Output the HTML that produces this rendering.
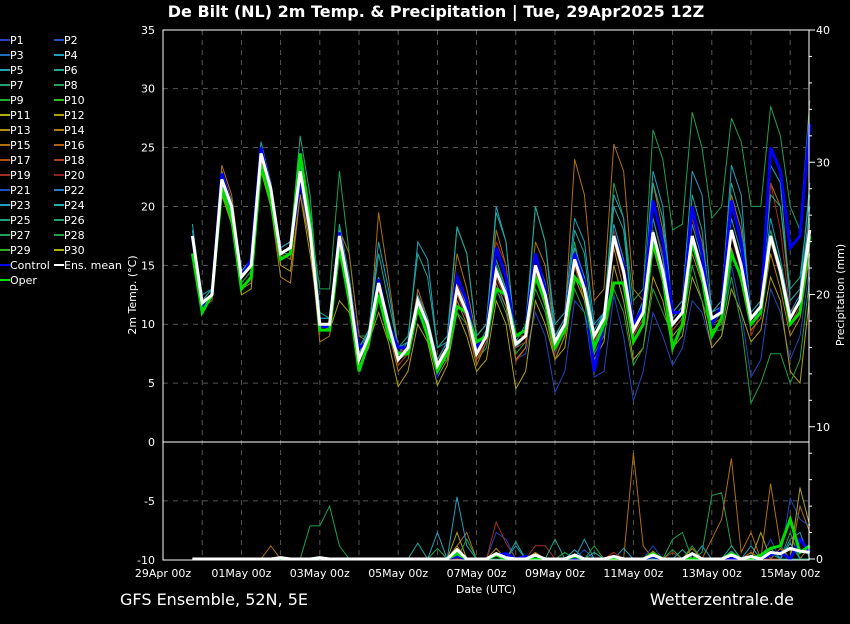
<!DOCTYPE html>
<html><head><meta charset="utf-8">
<style>
html,body{margin:0;padding:0;background:#000;}
body{width:850px;height:620px;overflow:hidden;font-family:"DejaVu Sans","Liberation Sans",sans-serif;}
svg text{font-family:"DejaVu Sans","Liberation Sans",sans-serif;fill:#fff;}
</style></head>
<body>
<svg id="chart" width="850" height="620" xmlns="http://www.w3.org/2000/svg">
<rect x="0" y="0" width="850" height="620" fill="#000"/>
<text x="436" y="17" text-anchor="middle" font-size="16" font-weight="bold">De Bilt  (NL)  2m Temp. &amp; Precipitation | Tue, 29Apr2025 12Z</text>
<text x="120" y="605" font-size="16">GFS Ensemble, 52N, 5E</text>
<text x="794" y="605" text-anchor="end" font-size="16">Wetterzentrale.de</text>
<text x="486" y="593" text-anchor="middle" font-size="11">Date (UTC)</text>
<text transform="translate(136,295) rotate(-90)" text-anchor="middle" font-size="11">2m Temp. (°C)</text>
<text transform="translate(844,295) rotate(-90)" text-anchor="middle" font-size="11">Precipitation (mm)</text>
<g id="grid"></g>
<g id="series"></g>
<g id="axes"></g>
<g id="legend"></g>
</svg>
<script>
const tempTicks=[35,30,25,20,15,10,5,0,-5,-10];
const precipTicks=[40,30,20,10,0];
const dateLabels=["29Apr 00z","01May 00z","03May 00z","05May 00z","07May 00z","09May 00z","11May 00z","13May 00z","15May 00z"];
const firstStep=3;
const ensMean=[17.5,11.8,12.5,22.3,20,14,15,24.5,21.5,16,16.5,23,18,10,10,17.5,13,7,9,13.5,10,7,8,12,10,6.5,8,13,11,7.5,9,14.5,12.5,8.3,9,15,12.5,8.5,10,15.5,13,9,10.5,17.5,14.5,9.5,11,17.8,14.5,10,11,17.5,14.5,10.5,11,18,15,10.5,11.5,17.5,14.5,10.5,12,18];
const control=[17.5,11.5,12.5,22.8,20,14,15.5,25,21.5,16,16.5,22,19,9.8,9.8,17.8,13,8,8.5,13.8,10,8,8,11.5,10,5.8,8,14,12,8,9,16.5,14,9,9.5,16,13,8,10,16,13.5,6,10,17.5,15,10,11.5,20.5,17,11,11,20,16,10,11.5,20.5,17,10,11,25,23,16.5,17.5,27];
const oper=[16,11,12.5,21.5,19,13,14,23.5,20.5,15.5,16,24.5,19,9.5,9.5,16.5,12,6,8.5,12.5,9,7.5,7.5,11.5,9,6,7.5,11.5,11,8.5,9,13,12.5,9,9.5,14,12,8,9.5,14,13,8,10,13.5,13.5,8.5,10,17,14,8,10,17,14,9,10.5,16,14,10,11,17.5,14.5,10,11,17.5];
const memA=[17,11.5,12.5,21.5,19.5,13.5,14.5,24,21,15.5,16,24,19,13,13,23,16,9,9,13,10,7,8,12,10,7,8,12.5,11,8,9,15,13,9,9.5,15,13,9,10.5,17,13,9,10,22,19,12,13,26.5,24,18,18.5,28,25,19,20,27.5,25.5,20,20,28.5,26,20,18,29];
const memB=[17.5,12,13,23.5,21,14.5,15.5,24.5,21,16,15.5,22,17,10,9.5,18,16,9,8.5,19.5,14,8,7.5,13,10.5,7,8.5,16,13,9,10,18,15,9,9,17,15,9,10.5,24,21,12,13,25.3,23,13,12,22,18,11,12,20,17,11,12,21,18,11,12,22,20,12,13,19];
const memC=[17.5,12,12.5,22,19.5,14,15,24.5,21.5,16,16.5,22,17,10,10,16.5,13,7.5,8.5,14,10,7,8,11,9,6,7.5,12,10.5,7,8,13,11.5,7,7.5,11,9,4.2,6,12,11,5.5,6,12.5,9,3.5,6,11,9,6.5,8,12,11,8,9,15,11,5.5,7,13,11,7,9,15];
const memD=[18.5,12,13,23,20.5,14.5,15.5,25.5,22,16.5,17,24,19,10.5,10.5,18,14,8,9.5,17,13,8,8.5,17,15.5,8,8.5,18.2,16,9,10,20,17,8,9,20,17,10,11,19,17,10,11,21,19,10,12,23,20,11,12,23,21,11,12,23.5,21,10,11.5,23.5,22,12,13,22];
const memE=[16,11.5,12,21,18.5,12.5,13,23,20,15,14.5,21,16,10,9.5,12,11,7.5,8.5,11,8.5,4.7,6,10,8.5,4.8,6.5,11,9,6,7,12,10,4.5,6,12,10,7,8,14,12,7,8.5,15,12,7,8,14,12,8,9,14,12,8,9,13,11,8.5,9.5,14,12,6,5,12.5];
const memF=[17.5,12,12.5,22.5,20,14.2,15,24.3,21.5,16,16.5,22.5,18,10,10,17,13.5,7.5,9,14,10,7.5,8,12.5,10,7,8,13.5,11.5,7,9,17,15,6.8,8,14,13,7.5,9.5,16.5,14,8.5,10.5,18,15,9,11,19,16,10,11,19,16,10,11,20,17,9,11,22,18,11,12,19];
const memG=[17,11.5,12.5,22,19.5,13.5,14.5,24,21,15.5,16,23.5,18,9.5,9.5,17,12.5,7,8.5,13,9.5,7,7.5,11.5,9.5,6.5,7,11,10,7,8,13,11,7.5,8.5,13,11,7,9,13,11,7.5,9,13,11,6.5,8,13,11,9,10,15,12,9.5,9.5,14,10,3.3,5,7.5,7.5,5,7,14];
const memH=[18,12,13,22.5,20,14.5,15.5,25,22,16.5,17,26,21,11,10.5,18.5,14,8,9.5,16,12,8,9,16,14,8,9,18.3,16,9,10,19.5,17,8.5,10,20,17,9,10,18,16,9,11,20,18,10,12,22,19,10,11,21,18,10,11,22,19,11,12,21,20,13,14,21];
const memI=[17,12,12.5,23,20.5,13,13.5,23.5,20,14,13.5,21,17,8.5,9,16.5,12,6.5,8,12.5,9.5,6,7,11,9.5,5.5,7,12,10,6.5,8.5,13.5,11.5,7,8,14,11.5,7,9,15,12,8,9.5,16.5,13,8.5,10,16.5,13.5,9,10,16,13.5,9.5,10,16.5,13.5,9.5,10.5,16,13,9,10.5,16];
const memJ=[18,12.5,13,22.5,20,14.5,15.5,25,22,16.5,17,23.5,18.5,10.5,10.5,18,13.5,7.5,9.5,14,10.5,7.5,8.5,12.5,10.5,7,8.5,14,11.5,8,9.5,15.5,13,9,9.5,16,13.5,9,10.5,16.5,14,9.5,11,18.5,15.5,10,11.5,19,15.5,10.5,11.5,18.5,15.5,11,11.5,19,16,11,12,19,15.5,11,12.5,20];
const memK=[17.5,11.5,12,21.5,19,14,15,24,21,15.5,16,22.5,17.5,9.5,9.5,17,12.5,7,8.5,13,9.5,6.5,7.5,11.5,9.5,6,7.5,12.5,10.5,7,8.5,14,12,8,8.5,14.5,12,8,9.5,15,12.5,8.5,10,17,14,9,10.5,17,14,9.5,10.5,17,14,10,10.5,17.5,14.5,10,11,17,14,10,11.5,17.5];
const memL=[17,12,12.5,22,19.5,14,15,24.5,21.5,16,16,23,18,10,10,17.5,13,7,9,13.5,10,7,8,12,10,6.5,8,13,11,7.5,9,14.5,12.5,8.5,9,15,12.5,8.5,10,15.5,13,9,10.5,17.5,14.5,9.5,11,18,14.5,10,11,17.5,14.5,10.5,11,18,15,10.5,11.5,18,15,10.5,12,18.5];
const precipMean=[0,0,0,0,0,0,0,0, 0,0.1,0,0,0,0.1,0,0, 0,0,0,0,0,0,0,0, 0,0,0,0.7,0,0,0,0.4, 0.1,0,0,0.3,0,0,0,0.3, 0,0,0,0.2,0,0,0,0.3, 0,0,0,0.4,0,0,0,0.3, 0,0.2,0,0.5,0.4,0.8,0.6,0.5];
const precipControl=[0,0,0,0,0,0,0,0, 0,0,0,0,0,0,0,0, 0,0,0,0,0,0,0,0, 0,0,0,0.2,0,0,0,0.3, 0.4,0,0.2,0,0,0,0,0, 0,0,0,0,0,0,0,0.2, 0,0,0,0,0,0,0,0, 0,0,0,0.3,0.5,0,1.5,0.5];
const precipOper=[0,0,0,0,0,0,0,0, 0,0,0,0,0,0,0,0, 0,0,0,0,0,0,0,0, 0,0,0,0.4,0,0,0,0.3, 0,0,0,0,0,0,0,0.2, 0,0,0,0,0,0,0,0.4, 0,0,0,0,0,0,0,0.4, 0,0,0.3,0.8,1.0,3.0,0.5,1.0];
const precipA=[0,0,0,0,0,0,0,0, 0,0,0,0,2.5,2.5,4.0,1.0, 0,0,0,0,0,0,0,0, 0,0,0,0,0,0,0,0, 0,0,0,0,0,0,0,0, 0,0,0,0,0,0,0,0.5, 0,1.5,2.0,0,0.5,4.8,5.0,1.0, 0,0,0,0,0,2.0,0,0];
const precipB=[0,0,0,0,0,0,0,0, 1.0,0,0,0,0,0,0,0, 0,0,0,0,0,0,0,0, 0,0,0,1.0,2.0,0,0,0, 0,0,0,0,0,0,0,0, 0,0,0,0,0,8.0,1.0,0, 0,0,0,0,0,1.5,3.0,7.6, 0.5,2.0,0,5.7,1.0,0,4.0,2.0];
const precipC=[0,0,0,0,0,0,0,0, 0,0,0,0,0,0,0,0, 0,0,0,0,0,0,0,0, 0,0,0,0,0,0,0,2.0, 1.5,0,0,0,0,0,0,0, 0.7,0,0,0,0,0,0,1.0, 0,0,0,0,0,0,0,0, 0,0,0,1.5,0,4.6,3.0,2.5];
const precipD=[0,0,0,0,0,0,0,0, 0,0,0,0,0,0,0,0, 0,0,0,0,0,0,0,0, 0,2.0,0,4.7,1.0,0,0,0, 0,1.0,0,0,0,0,0,0, 1.5,0,0,0,0.8,0,0,0, 0,0,0,0,1.0,0,0,0, 0,1.0,0,0,0,1.5,2.0,0];
const precipE=[0,0,0,0,0,0,0,0, 0,0,0,0,0,0,0,0, 0,0,0,0,0,0,0,0, 0,0,0,2.0,0,0,0,0, 0,0,0,0,0,0,0,0, 0,0,0,0,0,0,0,0, 0,0,0,0,0,0,0,0, 0,0,2.0,0,0,0,5.4,2.5];
const precipF=[0,0,0,0,0,0,0,0, 0,0,0,0,0,0,0,0, 0,0,0,0,0,0,0,0, 0,0,0,0,0,0,0,2.8, 1.2,0,0,1.0,1.0,0,0,0, 0,0,0,0.5,0,0,0,0, 0,0.5,0,0,0,0,0,0, 0,0,0,0,0,0,0,0];
const precipG=[0,0,0,0,0,0,0,0, 0,0,0,0,0,0,0,0, 0,0,0,0,0,0,0,0, 0,0.8,0,0,1.5,0,0,0, 0,0,0,0,0,0,0.5,0, 0,1.0,0,0,0,0,0,0, 0,0.7,0,1.0,0,0,0,0, 0,0,0,0,0,0,0,0];
const precipH=[0,0,0,0,0,0,0,0, 0,0,0,0,0,0,0,0, 0,0,0,0,0,0,0,1.2, 0,0,0,0,0,0,0,0, 0,1.3,0,0,0,1.5,0,0, 0,0.5,0,0,0,0,0,0, 0,0,0.7,0,0,0,0,1.0, 0,0,0,0,0,0,0,0];
const precipI=[0,0,0,0,0,0,0,0, 0,0,0,0,0,0,0,0, 0,0,0,0,0,0,0,0, 0,0,0,1.0,0,0,0,0.8, 0,0,0,0.5,0,0,0,0, 0,0,0,0,0,0,0,0.6, 0,0,0,0.8,0,0,0,0, 0,0.5,0,0,0.8,0,0,1.0];
const precipJ=[0,0,0,0,0,0,0,0, 0,0,0,0,0,0,0,0, 0,0,0,0,0,0,0,0, 0,0,0,0.5,0,0,0,0, 0,0,0,0,0,0,0,0.7, 0,0,0,0,0,0,0,0, 0,0,0,0,0,0,0,0.6, 0,0,0,0.8,0,1.2,0,0];
const precipK=[0,0,0,0,0,0,0,0, 0,0,0,0,0,0,0,0, 0,0,0,0,0,0,0,0, 0,0,0,0,0,0,0,0, 0,0,0,0,0,0,0,0, 0,0,0,0,0,0,0,0, 0,0,0,0,0,0,0,0, 0,0,0,0,0,0,0,0];
const precipL=[0,0,0,0,0,0,0,0, 0,0,0,0,0,0,0,0, 0,0,0,0,0,0,0,0, 0,0,0,0.3,0,0,0,0, 0,0,0,0,0,0,0,0, 0,0,0,0,0,0,0,0, 0,0,0,0,0,0,0,0, 0,0,0,0.4,0,0,0,0];

const NS="http://www.w3.org/2000/svg";
const X0=163,X1=809,YT=30,YB=560;
function xPos(i){return X0+(firstStep+i)*9.8;}
function yTemp(t){return 442-t*(530/45);}
function yPrec(p){return 559-p*(529/40);}
function mk(tag,attrs,parent){const e=document.createElementNS(NS,tag);for(const k in attrs)e.setAttribute(k,attrs[k]);parent.appendChild(e);return e;}
const grid=document.getElementById('grid'),series=document.getElementById('series'),axes=document.getElementById('axes'),legend=document.getElementById('legend');

tempTicks.forEach(t=>{
  const y=yTemp(t);
  if(t!==35&&t!==-10&&t!==0){const g=mk('line',{x1:X0,x2:X1,y1:y,y2:y,stroke:'#555','stroke-dasharray':'5,5','stroke-width':1},grid);
  
  }
  const tx=mk('text',{x:155,y:y+4,'text-anchor':'end','font-size':11},axes);tx.textContent=t;
  
  
});
for(let d=1;d<=16;d++){
  const x=X0+d*39.2;
  const g=mk('line',{x1:x,x2:x,y1:YT,y2:YB,stroke:'#555','stroke-dasharray':'5,5','stroke-width':1},grid);
  
  
}
dateLabels.forEach((l,k)=>{
  const tx=mk('text',{x:X0+k*78.4,y:577,'text-anchor':'middle','font-size':11},axes);tx.textContent=l;
  
  
});
precipTicks.forEach(p=>{
  const tx=mk('text',{x:816,y:yPrec(p)+4,'font-size':11},axes);tx.textContent=p;
  
  
});
for(let p=0;p<=40;p+=2){const y=yPrec(p);mk('line',{x1:X1,x2:X1+(p%10===0?6:3),y1:y,y2:y,stroke:'#fff'},axes);}
const frame=mk('rect',{x:X0,y:YT,width:X1-X0,height:YB-YT,fill:'none',stroke:'#fff','stroke-width':1},axes);


const sep=mk('line',{x1:X0,x2:X1,y1:yTemp(0),y2:yTemp(0),stroke:'#fff','stroke-width':1},axes);



function drawLine(vals,yf,color,w,name){
  const pts=vals.map((v,i)=>xPos(i).toFixed(1)+','+yf(v).toFixed(1)).join(' ');
  const pl=mk('polyline',{points:pts,fill:'none',stroke:color,'stroke-width':w,'stroke-linejoin':'miter'},series);
  
  
}
const members=[[memA,precipA,'#20a050','p8'],[memB,precipB,'#b07010','p15'],[memC,precipC,'#2244bb','p1'],[memD,precipD,'#20a0c0','p23'],[memE,precipE,'#b0a010','p12'],[memF,precipF,'#a03020','p19'],[memG,precipG,'#20a040','p28'],[memH,precipH,'#20a890','p6'],[memI,precipI,'#b08010','p14'],[memJ,precipJ,'#1f9fc0','p4'],[memK,precipK,'#b04020','p18'],[memL,precipL,'#20a070','p26']];
members.forEach(m=>{drawLine(m[1],yPrec,m[2],1,m[3]+'-precip-line');});
drawLine(precipControl,yPrec,'#0000ff',3,'control-precip-line');
drawLine(precipOper,yPrec,'#00dd00',3,'oper-precip-line');
drawLine(precipMean,yPrec,'#ffffff',3,'mean-precip-line');
members.forEach(m=>{drawLine(m[0],yTemp,m[2],1,m[3]+'-temp-line');});
drawLine(control,yTemp,'#0000ff',3,'control-temp-line');
drawLine(oper,yTemp,'#00dd00',3,'oper-temp-line');
drawLine(ensMean,yTemp,'#ffffff',3,'mean-temp-line');

const legendColors=['#2244bb','#1f55c0','#1f6fc0','#1f9fc0','#20a8b0','#20a890','#20a070','#20a050','#20b030','#30c020','#b0b010','#b0a010','#b09010','#b08010','#b07010','#b06010','#b05010','#b04020','#a03020','#902020','#2050c0','#2080c0','#20a0c0','#20b0b0','#20a080','#20a070','#20a050','#20a040','#30b020','#b0b010'];
const legendItems=legendColors.map((c,i)=>['P'+(i+1),c]);
legendItems.push(['Control','#0000ff'],['Ens. mean','#ffffff'],['Oper','#00dd00']);
legendItems.forEach((it,i)=>{
  const col=i%2,row=Math.floor(i/2);
  const lx=col?54:0,y=39+row*15;
  const g=mk('g',{},legend);
  
  
  mk('line',{x1:lx,x2:lx+10,y1:y+1,y2:y+1,stroke:it[1],'stroke-width':2},g);
  const t=mk('text',{x:lx+10,y:y+5,'font-size':11},g);t.textContent=it[0];
});
</script>
</body></html>
